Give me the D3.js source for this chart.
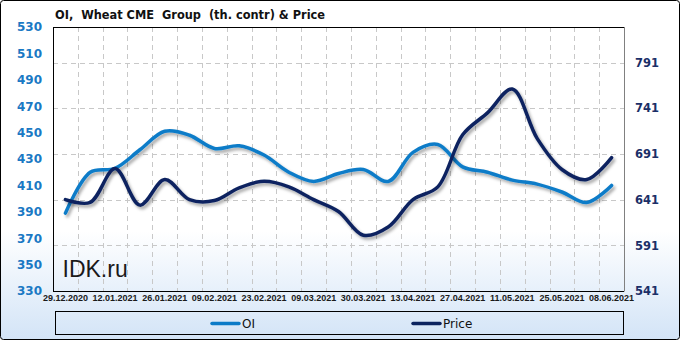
<!DOCTYPE html>
<html><head><meta charset="utf-8">
<script src="https://cdn.jsdelivr.net/npm/d3@7"></script>
<style>html,body{margin:0;padding:0;background:#fff}svg{display:block}</style>
</head><body>
<svg id="c" width="681" height="341"></svg>
<script>
const categories = ["29.12.2020","05.01.2021","12.01.2021","19.01.2021","26.01.2021","02.02.2021","09.02.2021","16.02.2021","23.02.2021","02.03.2021","09.03.2021","16.03.2021","30.03.2021","06.04.2021","13.04.2021","20.04.2021","27.04.2021","04.05.2021","11.05.2021","18.05.2021","25.05.2021","01.06.2021","08.06.2021"];
const tickLabels = ["29.12.2020","12.01.2021","26.01.2021","09.02.2021","23.02.2021","09.03.2021","30.03.2021","13.04.2021","27.04.2021","11.05.2021","25.05.2021","08.06.2021"];
const oiValues = [389, 420, 423, 437, 451, 448, 438, 440, 433, 420, 413, 419, 422, 413, 435, 441, 424, 420, 414, 411, 405, 397, 410];
const priceValues = [641, 638, 675, 635, 663, 641, 640, 654, 661, 655, 641, 628, 602, 611, 641, 655, 712, 736, 762, 708, 674, 663, 687];
const leftTicks = [330,350,370,390,410,430,450,470,490,510,530];
const rightTicks = [541,591,641,691,741,791];
const seriesNames = ["OI","Price"];

const svg = d3.select("#c");
const W = 681, H = 341;
const L = 53, R = 624, T = 27, B = 291;
const cOI = "#0b7bc8", cPrice = "#0c2460";

const defs = svg.append("defs");
const g = defs.append("linearGradient").attr("id","bg").attr("x1",0).attr("y1",0).attr("x2",0).attr("y2",1);
g.append("stop").attr("offset","0").attr("stop-color","#ffffff");
g.append("stop").attr("offset","0.68").attr("stop-color","#ffffff");
g.append("stop").attr("offset","1").attr("stop-color","#d3e4f7");
const f = defs.append("filter").attr("id","sh").attr("x","-10%").attr("y","-10%").attr("width","120%").attr("height","130%");
f.append("feDropShadow").attr("dx",2).attr("dy",2.5).attr("stdDeviation",1.4).attr("flood-color","#000").attr("flood-opacity",0.35);

svg.append("rect").attr("x",0.5).attr("y",0.5).attr("width",W-2).attr("height",H-2).attr("rx",3)
  .attr("fill","url(#bg)").attr("stroke","#000").attr("stroke-width",1);

const x = d3.scaleBand().domain(categories).range([L,R]).padding(0);
const cx = d => x(d) + x.bandwidth()/2;
const yL = d3.scaleLinear().domain([330,530]).range([B,T]);
const yR = d3.scaleLinear().domain([541, 541 + (B-T)*250/228.4]).range([B,T]);

// gridlines
const grid = svg.append("g").attr("stroke","#c8c8c8").attr("stroke-dasharray","5,4").attr("stroke-width",1);
categories.slice(1).forEach(c => {
  const xx = Math.round(x(c)) + 0.5;
  grid.append("line").attr("x1",xx).attr("x2",xx).attr("y1",T).attr("y2",B);
});
rightTicks.slice(1).forEach(v => {
  const yy = Math.round(yR(v)) + 0.5;
  grid.append("line").attr("x1",L).attr("x2",R).attr("y1",yy).attr("y2",yy);
});

// plot border
svg.append("line").attr("x1",L+0.5).attr("x2",L+0.5).attr("y1",T).attr("y2",B+0.5).attr("stroke","#000");
svg.append("line").attr("x1",L).attr("x2",R).attr("y1",T+0.5).attr("y2",T+0.5).attr("stroke","#000");
svg.append("line").attr("x1",L).attr("x2",R).attr("y1",B+0.5).attr("y2",B+0.5).attr("stroke","#000");
svg.append("line").attr("x1",R+0.5).attr("x2",R+0.5).attr("y1",T).attr("y2",B+0.5).attr("stroke","#808080");

// watermark
svg.append("text").attr("x",62.5).attr("y",277).attr("font-family","Liberation Sans, Arial").attr("font-size",23)
  .attr("fill","#1a1a1a").text("IDK.ru");

// axes
const axL = d3.axisLeft(yL).tickValues(leftTicks).tickSize(0).tickPadding(0);
const gl = svg.append("g").attr("transform",`translate(42,0)`).call(axL);
gl.select(".domain").remove();
gl.selectAll("text").attr("font-family","DejaVu Sans").attr("font-weight","bold").attr("font-size",12).attr("fill","#1a79c4");

const axR = d3.axisRight(yR).tickValues(rightTicks).tickSize(0).tickPadding(0);
const gr = svg.append("g").attr("transform",`translate(635,0)`).call(axR);
gr.select(".domain").remove();
gr.selectAll("text").attr("font-family","DejaVu Sans").attr("font-weight","bold").attr("font-size",11.5).attr("fill","#1b2f68");

const axB = d3.axisBottom(x).tickValues(tickLabels).tickSize(0).tickPadding(0);
const gb = svg.append("g").attr("transform",`translate(0,${B+4})`).call(axB);
gb.select(".domain").remove();
gb.selectAll("text").attr("font-family","Liberation Sans, Arial").attr("font-weight","bold").attr("font-size",9).attr("fill","#1a1a1a");

// lines
const line = (ys) => d3.line().x((d,i)=>cx(categories[i])).y(d=>ys(d)).curve(d3.curveCatmullRom.alpha(0.5));
svg.append("path").datum(oiValues).attr("d",line(yL)).attr("fill","none").attr("stroke",cOI).attr("stroke-width",3.5)
  .attr("stroke-linecap","round").attr("stroke-linejoin","round").attr("filter","url(#sh)");
svg.append("path").datum(priceValues).attr("d",line(yR)).attr("fill","none").attr("stroke",cPrice).attr("stroke-width",3.5)
  .attr("stroke-linecap","round").attr("stroke-linejoin","round").attr("filter","url(#sh)");

// title
svg.append("text").attr("x",55).attr("y",19).attr("font-family","DejaVu Sans").attr("font-weight","bold").attr("font-size",12)
  .attr("textLength",270).attr("lengthAdjust","spacingAndGlyphs").attr("fill","#111")
  .style("white-space","pre").attr("xml:space","preserve")
  .text("OI,  Wheat CME  Group  (th. contr) & Price");

// legend
svg.append("rect").attr("x",55.5).attr("y",311.5).attr("width",568).attr("height",23).attr("fill","none").attr("stroke","#000");
const legX = [212, 413];
const legC = [cOI, cPrice];
seriesNames.forEach((n,i) => {
  svg.append("line").attr("x1",legX[i]).attr("x2",legX[i]+27).attr("y1",323.5).attr("y2",323.5)
    .attr("stroke",legC[i]).attr("stroke-width",3.5).attr("stroke-linecap","round");
  svg.append("text").attr("x",legX[i]+30).attr("y",327.5).attr("font-family","DejaVu Sans").attr("font-size",12)
    .attr("fill","#111").text(n);
});
</script>
</body></html>
